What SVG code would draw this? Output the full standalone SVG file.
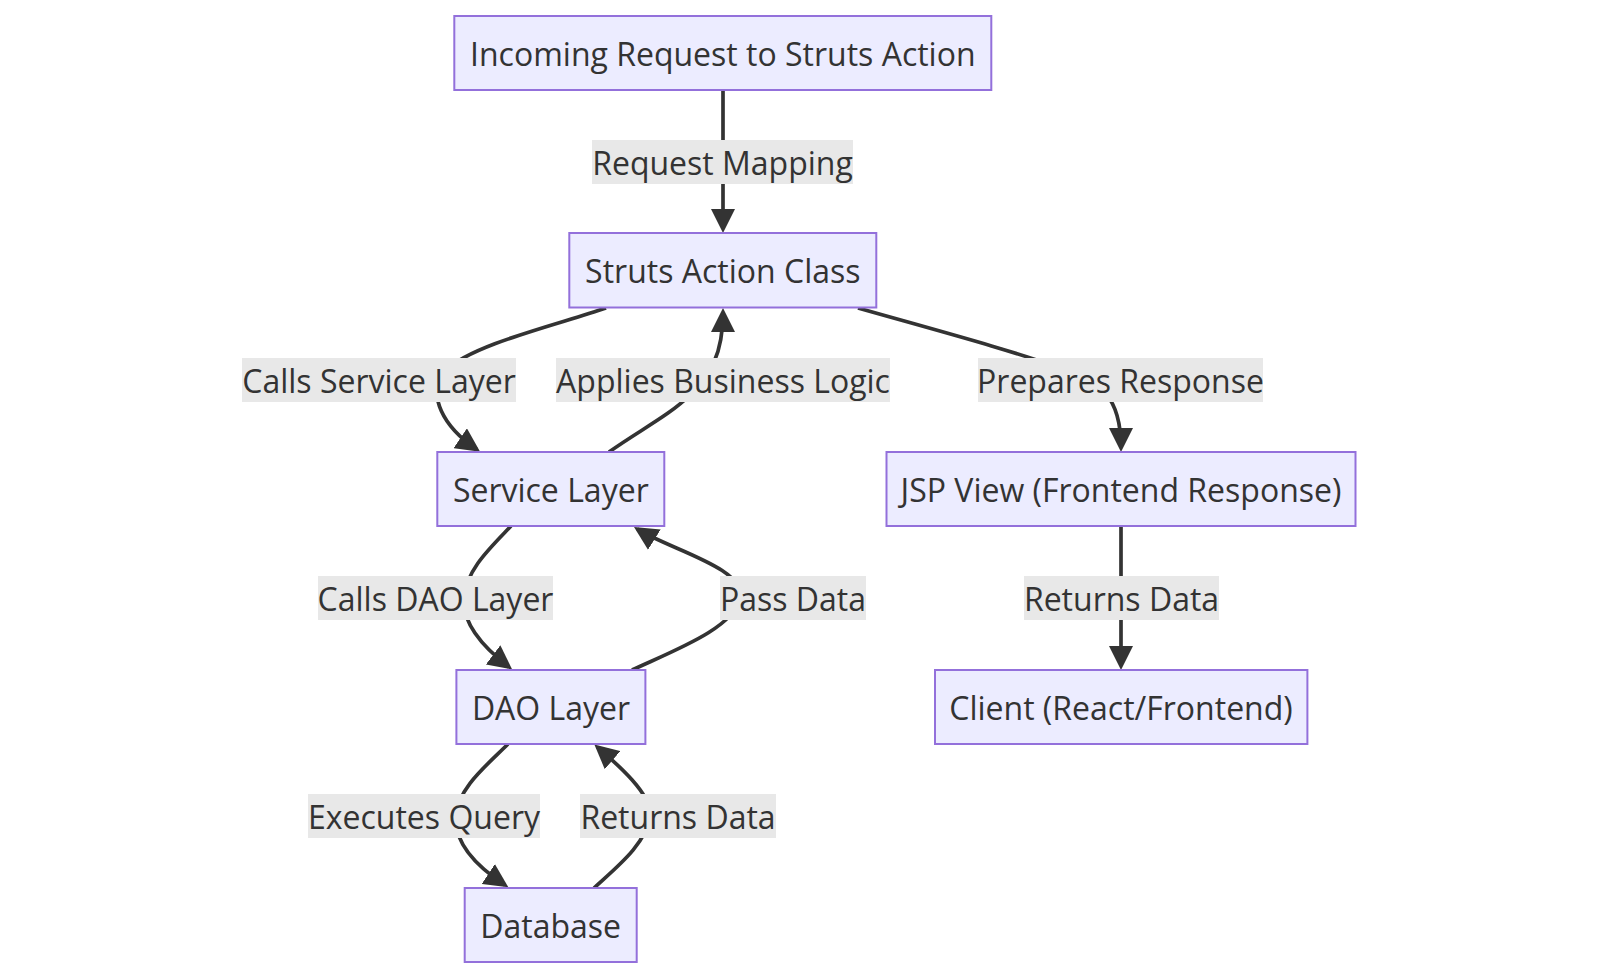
<svg xmlns="http://www.w3.org/2000/svg" width="1600" height="978" viewBox="0 0 1600 978">
<defs>
<style>
.node rect{fill:#ECECFF;stroke:#9370DB;stroke-width:2}
.node text,.lbl text{font-family:"Open Sans","Noto Sans","DejaVu Sans",sans-serif;font-size:32px;fill:#333;text-anchor:middle;dominant-baseline:central}
.lbl rect{fill:#e8e8e8}
.edge{fill:none;stroke:#333;stroke-width:3.7;marker-end:url(#arr)}
</style>
<marker id="arr" markerUnits="userSpaceOnUse" viewBox="0 0 24 24" refX="20" refY="12" markerWidth="24" markerHeight="24" orient="auto">
<path d="M0,0 L24,12 L0,24 z" fill="#333"/>
</marker>
</defs>
<rect width="1600" height="978" fill="#fff"/>
<g id="edges">
<path class="edge" d="M723,90 L723,229"/>
<path class="edge" d="M606,308 C560,324 470,345 447,370 C424,395 445,428 476.8,449.5"/>
<path class="edge" d="M609,452 C640,430 670,415 690,395 C710,375 723,355 723,312"/>
<path class="edge" d="M858,308 C950,334 1010,350 1060,368 C1100,382 1121,395 1121,448"/>
<path class="edge" d="M511,526 C490,548 466,570 464,598 C462,624 484,648 509,667"/>
<path class="edge" d="M632,670 C675,650 734,628 740,598 C746,568 671,550 637.4,529.1"/>
<path class="edge" d="M508,744 C486,766 458,788 456,816 C454,842 476,866 505,885"/>
<path class="edge" d="M594,888 C618,866 646,844 650,816 C653,795 616.4,763.4 597.4,747.1"/>
<path class="edge" d="M1121,526 L1121,666"/>
</g>
<g id="edge-labels">
<g class="lbl"><rect x="592" y="140" width="261" height="44"/><text x="722.5" y="162">Request Mapping</text></g>
<g class="lbl"><rect x="242" y="358" width="274" height="44"/><text x="379" y="380">Calls Service Layer</text></g>
<g class="lbl"><rect x="556" y="358" width="334" height="44"/><text x="723" y="380">Applies Business Logic</text></g>
<g class="lbl"><rect x="978" y="358" width="285" height="44"/><text x="1120.5" y="380">Prepares Response</text></g>
<g class="lbl"><rect x="318" y="576" width="235" height="44"/><text x="435.5" y="598">Calls DAO Layer</text></g>
<g class="lbl"><rect x="720" y="576" width="146" height="44"/><text x="793" y="598">Pass Data</text></g>
<g class="lbl"><rect x="1024" y="576" width="195" height="44"/><text x="1121.5" y="598">Returns Data</text></g>
<g class="lbl"><rect x="308" y="794" width="232" height="44"/><text x="424" y="816">Executes Query</text></g>
<g class="lbl"><rect x="580" y="794" width="196" height="44"/><text x="678" y="816">Returns Data</text></g>
</g>
<g id="n-incoming" class="node"><rect x="454.3" y="16" width="537" height="74"/><text x="722.8" y="53">Incoming Request to Struts Action</text></g>
<g id="n-struts" class="node"><rect x="569.3" y="233" width="307" height="74.5"/><text x="722.8" y="270">Struts Action Class</text></g>
<g id="n-service" class="node"><rect x="437.3" y="452" width="227" height="74"/><text x="550.8" y="489">Service Layer</text></g>
<g id="n-jsp" class="node"><rect x="886.5" y="452" width="469" height="74"/><text x="1121" y="489">JSP View (Frontend Response)</text></g>
<g id="n-dao" class="node"><rect x="456.4" y="670" width="189" height="74"/><text x="551" y="707">DAO Layer</text></g>
<g id="n-client" class="node"><rect x="935" y="670" width="372.4" height="74"/><text x="1121" y="707">Client (React/Frontend)</text></g>
<g id="n-db" class="node"><rect x="464.7" y="888" width="172" height="74"/><text x="550.7" y="925">Database</text></g>
</svg>
